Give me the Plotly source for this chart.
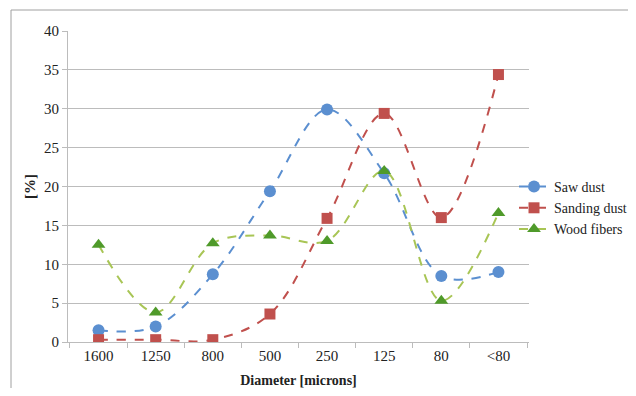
import plotly.graph_objects as go

# ── Data ─────────────────────────────────────────────────────────────────────
DIAMETERS    = ['1600', '1250', '800', '500', '250', '125', '80', '<80']
SAW_DUST     = [1.5, 2.0, 8.7, 19.4, 29.9, 21.7, 8.5, 9.0]
SANDING_DUST = [0.3, 0.3, 0.3, 3.6, 15.9, 29.4, 16.0, 34.4]
WOOD_FIBERS  = [12.5, 3.8, 12.7, 13.7, 13.0, 22.0, 5.3, 16.6]

# ── Design tokens ────────────────────────────────────────────────────────────
FONT   = 'Liberation Serif, Times New Roman, Times, serif'
TEXT   = '#222222'
GRID   = '#bcbcbc'
BLUE   = '#5b8fd0'
RED    = '#c0504d'
GREEN_LINE = '#a8c555'
GREEN_MARK = '#4f9a2a'

# page body has an 8px margin, so the figure is drawn smaller and
# positions below are given in window pixels and shifted by OFF
OFF = 8
W, H = 636 - 2 * OFF, 396 - 2 * OFF
L, T = 68 - OFF, 31 - OFF
R, B = W - (529 - OFF), H - (342 - OFF)
PW, PH = W - L - R, H - T - B


def px_x(p):
    return (p - OFF - L) / PW


def px_y(p):
    return (H - B - (p - OFF)) / PH


series = [
    ('Saw dust', SAW_DUST, BLUE, BLUE, 'circle', 12),
    ('Sanding dust', SANDING_DUST, RED, RED, 'square', 11),
    ('Wood fibers', WOOD_FIBERS, GREEN_LINE, GREEN_MARK, 'triangle-up', 12),
]

fig = go.Figure()
for name, vals, lc, mc, sym, size in series:
    fig.add_trace(go.Scatter(
        x=DIAMETERS, y=vals, name=name,
        mode='lines+markers',
        line=dict(color=lc, width=2, dash='dash', shape='spline', smoothing=1),
        marker=dict(color=mc, symbol=sym, size=size, line=dict(width=0)),
    ))

# outer chart frame (top and left edges visible)
fig.add_shape(type='line', xref='paper', yref='paper',
              x0=px_x(11), y0=px_y(10), x1=px_x(650), y1=px_y(10),
              line=dict(color='#a0a0a0', width=1))
fig.add_shape(type='line', xref='paper', yref='paper',
              x0=px_x(11), y0=px_y(10), x1=px_x(11), y1=px_y(410),
              line=dict(color='#a0a0a0', width=1))

fig.update_layout(
    width=W, height=H,
    margin=dict(l=L, r=R, t=T, b=B, autoexpand=False),
    paper_bgcolor='white', plot_bgcolor='white',
    font=dict(family=FONT, color=TEXT, size=15),
    legend=dict(
        x=px_x(514), y=px_y(171), xanchor='left', yanchor='top',
        font=dict(family=FONT, size=14, color=TEXT),
        tracegroupgap=0, itemwidth=30, bgcolor='rgba(0,0,0,0)',
    ),
)
fig.update_xaxes(
    automargin=False,
    showgrid=False, showline=True, linecolor=GRID, linewidth=1,
    ticks='outside', tickson='boundaries', ticklen=5, tickcolor=GRID,
    tickfont=dict(family=FONT, size=15, color=TEXT),
    title=dict(text='<b>Diameter [microns]</b>', standoff=12,
               font=dict(family=FONT, size=14, color=TEXT)),
)
fig.update_yaxes(
    automargin=False,
    range=[0, 40], dtick=5, showgrid=True, gridcolor=GRID, gridwidth=1,
    zeroline=False, showline=True, linecolor=GRID, linewidth=1,
    ticks='outside', ticklen=5, tickcolor=GRID,
    tickfont=dict(family=FONT, size=15, color=TEXT),
    title=dict(text='<b>[%]</b>', standoff=4,
               font=dict(family=FONT, size=15, color=TEXT)),
)

fig.write_html('out.html')
